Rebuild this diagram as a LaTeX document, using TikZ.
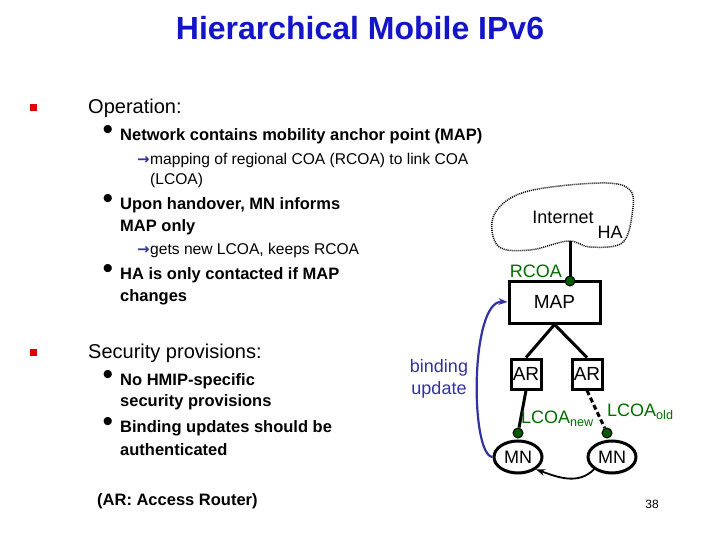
\documentclass[tikz,border=0pt]{standalone}
\usepackage{fontspec}
\setmainfont{Liberation Sans}
\newfontfamily\dv{DejaVu Sans}
\usetikzlibrary{arrows.meta,shapes.geometric}
\definecolor{ttl}{RGB}{20,20,200}
\definecolor{grn}{RGB}{0,110,0}
\definecolor{dgrn}{RGB}{0,90,0}
\definecolor{bu}{RGB}{50,50,160}
\definecolor{rd}{RGB}{220,0,0}
\tikzset{
  t/.style={anchor=west,inner sep=0pt,font=\bfseries\fontsize{16.5}{16.5}\selectfont},
  tl/.style={anchor=west,inner sep=0pt,font=\fontsize{20}{20}\selectfont},
  ts/.style={anchor=west,inner sep=0pt,font=\fontsize{15.6}{15.6}\selectfont},
  bul/.style={inner sep=0pt,font=\fontsize{30}{30}\selectfont},
  sq/.style={fill=rd,minimum size=7pt,inner sep=0pt},
  arw/.style={anchor=east,inner sep=0pt,text=bu,font=\dv\bfseries\fontsize{15}{15}\selectfont},
  box/.style={draw,line width=3pt,inner sep=0pt,font=\fontsize{19}{19}\selectfont},
  dot/.style={circle,fill=dgrn,draw=black,line width=1pt,minimum size=10pt,inner sep=0pt},
  mn/.style={ellipse,draw,line width=3pt,minimum width=48pt,minimum height=32pt,inner sep=0pt,font=\fontsize{18}{18}\selectfont},
  lk/.style={line width=3pt},
  gt/.style={text=grn,inner sep=0pt,font=\fontsize{18}{18}\selectfont}
}
\begin{document}
\begin{tikzpicture}[x=1pt,y=-1pt]
\useasboundingbox[fill=white] (0,0) rectangle (720,540);
\node[text=ttl,font=\bfseries\fontsize{32}{32}\selectfont] (title) at (360,28) {Hierarchical Mobile IPv6};
\node[sq] (s1) at (33,108) {};
\node[tl] (op) at (88,108) {Operation:};
\node[bul] (b1) at (108,132) {•};
\node[t] (l1) at (120,136) {Network contains mobility anchor point (MAP)};
\node[arw] (a1) at (150,160) {→};
\node[ts] (l2) at (150,160) {mapping of regional COA (RCOA) to link COA};
\node[ts] (l3) at (150,180) {(LCOA)};
\node[bul] (b2) at (108,201) {•};
\node[t] (l4) at (120,205) {Upon handover, MN informs};
\node[t] (l5) at (120,227) {MAP only};
\node[arw] (a2) at (150,250) {→};
\node[ts] (l6) at (150,250) {gets new LCOA, keeps RCOA};
\node[bul] (b3) at (108,271) {•};
\node[t] (l7) at (120,275) {HA is only contacted if MAP};
\node[t] (l8) at (120,297) {changes};
\node[sq] (s2) at (33,352) {};
\node[tl] (sp) at (88,353) {Security provisions:};
\node[bul] (b4) at (108,377) {•};
\node[t] (l9) at (120,381) {No HMIP-specific};
\node[t] (l10) at (120,402) {security provisions};
\node[bul] (b5) at (108,424) {•};
\node[t] (l11) at (120,428) {Binding updates should be};
\node[t] (l12) at (120,450) {authenticated};
\node[t] (ar) at (97,501) {(AR: Access Router)};
\node[inner sep=0pt,font=\fontsize{12}{12}\selectfont] (pg) at (652,504) {38};
\draw[line width=1.5pt,dash pattern=on 1pt off 1pt] plot[smooth cycle,tension=0.6] coordinates
 {(494,215) (525,192) (600,183) (630,190) (632,215) (622,243) (590,247) (568,241) (530,250) (498,246)};
\node[inner sep=0pt,font=\fontsize{18}{18}\selectfont] (inet) at (563,217) {Internet};
\node[inner sep=0pt,font=\fontsize{18}{18}\selectfont] (ha) at (610,232) {HA};
\coordinate (cb) at (570,241);
\node[box,minimum width=91pt,minimum height=42pt] (map) at (554.5,302) {MAP};
\node[dot] (rd) at (570,281) {};
\node[gt,anchor=east] (rcoa) at (562,271) {RCOA};
\draw[lk] (cb) -- (rd);
\node[box,minimum width=30pt,minimum height=30pt] (ar1) at (526,374) {AR};
\node[box,minimum width=30pt,minimum height=30pt] (ar2) at (587,374) {AR};
\draw[lk] (map.south) -- (ar1.north);
\draw[lk] (map.south) -- (ar2.north);
\node[dot] (d1) at (518,433) {};
\node[dot] (d2) at (607,433) {};
\draw[lk] (ar1.south) -- (d1);
\draw[lk,dash pattern=on 5pt off 3pt] (ar2.south) -- (d2);
\node[mn] (mn1) at (518,457) {MN};
\node[mn] (mn2) at (612,457) {MN};
\node[gt,anchor=west] (ln) at (521,419) {LCOA\textsubscript{new}};
\node[gt,anchor=west] (lo) at (607,412) {LCOA\textsubscript{old}};
\draw[line width=1.8pt,-{Stealth[length=9pt]}] (mn2.south west) to[out=-135,in=-20] (mn1.south east);
\draw[line width=2.2pt,bu,-{Stealth[length=9pt]}] (mn1.west) .. controls (470,455) and (470,300) .. (map.west);
\node[text=bu,align=center,inner sep=0pt,font=\fontsize{18}{22}\selectfont] (bu) at (439,379) {binding\\update};
\end{tikzpicture}
\end{document}
